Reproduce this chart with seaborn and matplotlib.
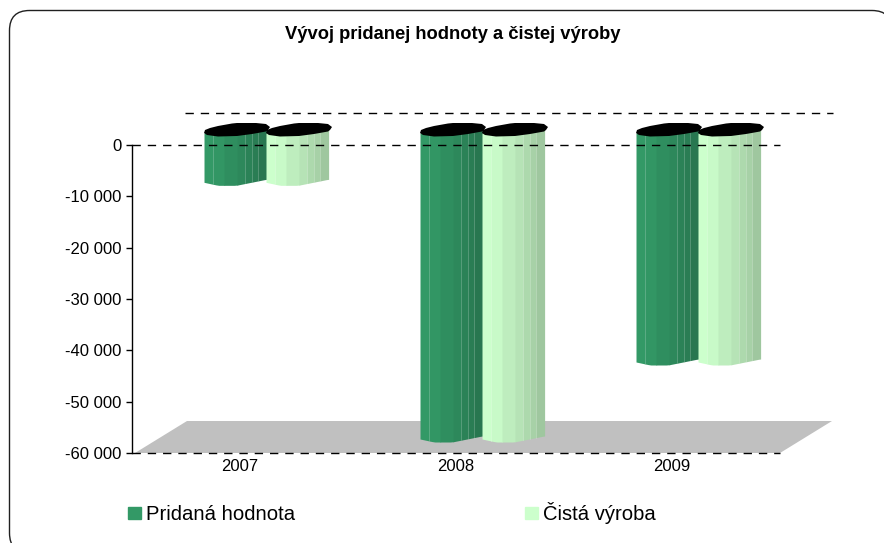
import numpy as np
import pandas as pd
import seaborn as sns
import matplotlib.pyplot as plt
from matplotlib.colors import to_rgb
from matplotlib.patches import FancyBboxPatch, Patch, Polygon

years = ['2007', '2008', '2009']
pridana = [-10000, -60000, -45000]
cista = [-10000, -60000, -45000]
series = ['Pridaná hodnota', 'Čistá výroba']
yticks = [0, -10000, -20000, -30000, -40000, -50000, -60000]
ylabels = ['0', '-10 000', '-20 000', '-30 000', '-40 000', '-50 000', '-60 000']

W, H = 884, 543
sns.set_theme(style='white')
plt.rcParams['font.family'] = ['Liberation Sans', 'DejaVu Sans']

df = pd.DataFrame({'rok': years * 2,
                   'hodnota': pridana + cista,
                   'serie': [series[0]] * 3 + [series[1]] * 3})

fig = plt.figure(figsize=(W / 100, H / 100), dpi=100)

# outer frame, runs off the right and bottom of the picture
frame = FancyBboxPatch((9.5 + 20, H - 553 + 20), 892 - 9.5 - 40, 553 - 10.5 - 40,
                       boxstyle='round,pad=20,rounding_size=20', fc='white', ec='#202020', lw=1,
                       transform=None, zorder=-5)
fig.add_artist(frame)

ax = fig.add_axes([132 / W, 1 - 453 / H, 648 / W, 308 / H])
sns.barplot(data=df, x='rok', y='hodnota', hue='serie', order=years, hue_order=series,
            palette=['#339966', '#CCFFCC'], width=0.574, gap=0, legend=False, ax=ax)
ax.set_xlim(-0.5, 2.5)
ax.set_ylim(-60000, 0)

# pixels -> data units
px_x = 3 / 648
px_y = 60000 / 308
dx_bar = 26 * px_x   # bars sit halfway into the depth
dy_bar = 14 * px_y

# floor and dashed walls
floor = Polygon([(-0.5 + 3 * px_x, -60000), (-0.5 + 55 * px_x, -60000 + 32 * px_y),
                 (2.5 + 52 * px_x, -60000 + 32 * px_y), (2.5, -60000)],
                closed=True, fc='#C0C0C0', ec='none', clip_on=False, zorder=0)
ax.add_patch(floor)
dash = dict(color='black', lw=1, dashes=(6, 5), clip_on=False)
ax.plot([-0.5, 2.5], [0, 0], zorder=6, **dash)
ax.plot([-0.5, 2.5], [-60000, -60000], zorder=6, **dash)
ax.plot([-0.5 + 53 * px_x, 2.5 + 53 * px_x], [32 * px_y, 32 * px_y], zorder=1, **dash)

# cylinders on top of the seaborn bars
strips = np.array([0, 9, 20, 33, 41, 48, 54, 62]) / 62
shades = [1.0, 0.98, 0.93, 0.89, 0.85, 0.82, 0.78]
prof_x = np.array([0, 14, 32, 62]) / 62
prof_y = np.array([0, -3, -3, 3]) * px_y
top_x = np.array([0, 1, 6, 14, 28, 33, 52, 62, 66, 64, 62, 48, 33, 14, 3]) / 62
top_y = np.array([0, 3, 5, 7, 9.5, 10, 10, 9, 6, 3, 1.5, -1, -3, -3.5, -2]) * px_y
top0 = -2 * px_y
rim_x = np.array([0, 33, 62]) / 62
rim_y = np.array([0, 0, 5]) * px_y
for bar, col in zip(ax.patches, ['#339966'] * 3 + ['#CCFFCC'] * 3):
    bar.set_visible(False)
    x0 = bar.get_x() + dx_bar
    w = bar.get_width()
    bottom = min(bar.get_y(), bar.get_y() + bar.get_height()) + dy_bar
    rgb = np.array(to_rgb(col))
    for i, s in enumerate(shades):
        xs = np.linspace(strips[i], strips[i + 1] + 0.01, 5)
        ax.fill_between(x0 + xs * w, bottom + np.interp(xs, prof_x, prof_y),
                        dy_bar + top0 + np.interp(xs, rim_x, rim_y),
                        color=rgb * s, lw=0, clip_on=False, zorder=3)
    # thin light seams between some strips
    for s in strips[[1, 4, 5, 6]]:
        ax.plot([x0 + s * w] * 2, [bottom + np.interp(s, prof_x, prof_y), dy_bar + top0],
                color='white', alpha=0.2, lw=0.7, clip_on=False, zorder=3)
    ax.fill(x0 + top_x * w, dy_bar + top0 + top_y, color='black', lw=0, clip_on=False, zorder=4)

ax.set_yticks(yticks)
ax.set_yticklabels(ylabels, fontsize=12)
ax.tick_params(axis='y', length=4, width=1, color='black', pad=3.5, left=True, labelcolor='black')
ax.tick_params(axis='x', length=0, pad=4, labelsize=12, labelcolor='black')
ax.set_xlabel('')
ax.set_ylabel('')
sns.despine(ax=ax, top=True, right=True, bottom=True)
ax.spines['left'].set_color('black')
ax.spines['left'].set_linewidth(1)
ax.patch.set_alpha(0)

fig.text(453 / W, 1 - 34 / H, 'Vývoj pridanej hodnoty a čistej výroby', ha='center', va='center',
         fontsize=13.25, fontweight='bold', color='black')

fig.legend(handles=[Patch(color='#339966', label=series[0]), Patch(color='#CCFFCC', label=series[1])],
           loc='center left', bbox_to_anchor=(110 / W, 1 - 513 / H), ncols=2, frameon=False,
           fontsize=14.6, handlelength=0.65, handleheight=0.5, handletextpad=0.25, columnspacing=11.3,
           labelcolor='black')

fig.savefig('out.png', dpi=100)
